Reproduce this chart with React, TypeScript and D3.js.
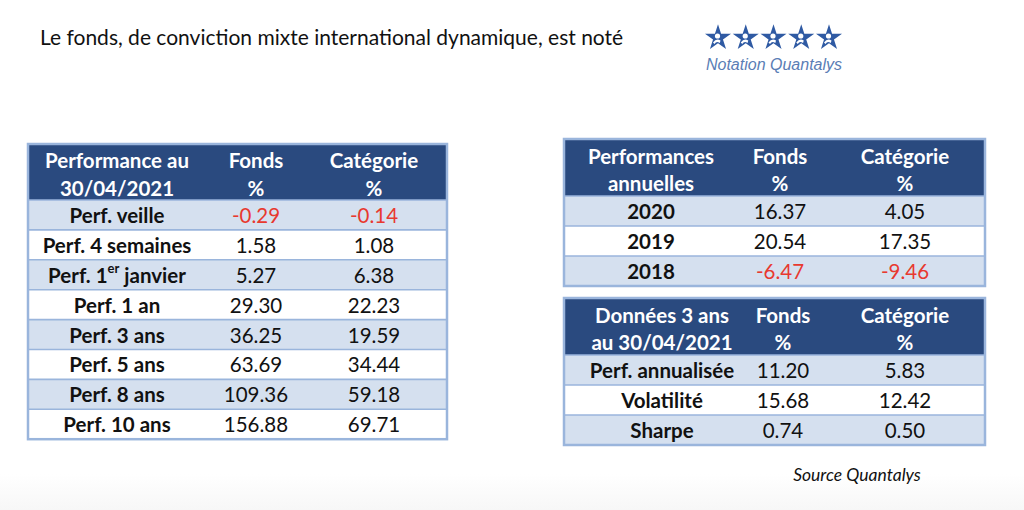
import React from "react";
import * as d3 from "d3";

const titleText = "Le fonds, de conviction mixte international dynamique, est noté";
const ratingLabel = "Notation Quantalys";
const ratingStars = [1, 2, 3, 4, 5];
const sourceText = "Source Quantalys";

const perfHeader = [["Performance au", "30/04/2021"], ["Fonds", "%"], ["Catégorie", "%"]];
const perfLabels = ["Perf. veille", "Perf. 4 semaines", "Perf. 1er janvier", "Perf. 1 an", "Perf. 3 ans", "Perf. 5 ans", "Perf. 8 ans", "Perf. 10 ans"];
const perfFonds = [-0.29, 1.58, 5.27, 29.3, 36.25, 63.69, 109.36, 156.88];
const perfCategorie = [-0.14, 1.08, 6.38, 22.23, 19.59, 34.44, 59.18, 69.71];

const annualHeader = [["Performances", "annuelles"], ["Fonds", "%"], ["Catégorie", "%"]];
const annualLabels = ["2020", "2019", "2018"];
const annualFonds = [16.37, 20.54, -6.47];
const annualCategorie = [4.05, 17.35, -9.46];

const riskHeader = [["Données 3 ans", "au 30/04/2021"], ["Fonds", "%"], ["Catégorie", "%"]];
const riskLabels = ["Perf. annualisée", "Volatilité", "Sharpe"];
const riskFonds = [11.2, 15.68, 0.74];
const riskCategorie = [5.83, 12.42, 0.5];

const FONT = "Lato, 'Open Sans', sans-serif";
const HEADER_BG = "#2a4a7f";
const ROW_ALT = "#d5e0ef";
const LINE = "#9ab5dc";
const NEG = "#e8392f";
const FS = 20.5;
const fmt = d3.formatLocale({ decimal: ".", thousands: ",", grouping: [3], currency: ["", ""], minus: "-" }).format(".2f");

type TableProps = {
  x0: number; x1: number; y0: number; headerH: number; rowH: number;
  cols: number[]; header: string[][]; labels: string[]; a: number[]; b: number[];
};

function Label({ text }: { text: string }) {
  const m = text.match(/^(.*1)(er)( .*)$/);
  if (m) {
    return (
      <>
        <tspan>{m[1]}</tspan>
        <tspan fontSize="13" dy="-7">{m[2]}</tspan>
        <tspan dy="7">{m[3]}</tspan>
      </>
    );
  }
  return <>{text}</>;
}

function Table({ x0, x1, y0, headerH, rowH, cols, header, labels, a, b }: TableProps) {
  const y = d3.scaleBand<string>().domain(labels).range([y0 + headerH, y0 + headerH + rowH * labels.length]);
  const x = d3.scaleOrdinal<number, number>().domain([0, 1, 2]).range(cols.map((c) => x0 + c));
  const y1 = y0 + headerH + rowH * labels.length;
  return (
    <g fontFamily={FONT}>
      <rect x={x0} y={y0} width={x1 - x0} height={headerH} fill={HEADER_BG} />
      {header.map((lines, ci) => (
        <text key={ci} x={x(ci)} textAnchor="middle" fill="#ffffff" fontWeight="bold" fontSize={FS}>
          {lines.map((l, li) => (
            <tspan key={li} x={x(ci)} y={y0 + headerH * (li === 0 ? 0.29 : 0.78)} dominantBaseline="central">{l}</tspan>
          ))}
        </text>
      ))}
      {labels.map((lab, i) => {
        const yy = y(lab)!;
        const cy = yy + y.bandwidth() / 2;
        return (
          <g key={lab}>
            <rect x={x0} y={yy} width={x1 - x0} height={y.bandwidth()} fill={i % 2 === 0 ? ROW_ALT : "#ffffff"} />
            <line x1={x0} x2={x1} y1={yy} y2={yy} stroke={LINE} strokeWidth={1.6} />
            <text x={x(0)} y={cy} textAnchor="middle" dominantBaseline="central" fontWeight="bold" fontSize={FS} fill="#111">
              <Label text={lab} />
            </text>
            <text x={x(1)} y={cy} textAnchor="middle" dominantBaseline="central" fontSize={FS} fill={a[i] < 0 ? NEG : "#111"}>{fmt(a[i])}</text>
            <text x={x(2)} y={cy} textAnchor="middle" dominantBaseline="central" fontSize={FS} fill={b[i] < 0 ? NEG : "#111"}>{fmt(b[i])}</text>
          </g>
        );
      })}
      <rect x={x0} y={y0} width={x1 - x0} height={y1 - y0} fill="none" stroke={LINE} strokeWidth={2.5} />
    </g>
  );
}

function Star({ cx, cy }: { cx: number; cy: number }) {
  const star = d3.symbol(d3.symbolStar, 210)()!;
  return (
    <g transform={`translate(${cx},${cy})`}>
      <path d={star} fill="#2f5aa3" />
      <circle cx={-0.5} cy={-2} r={2.6} fill="#ffffff" />
      <path d="M-5,4.5 Q-1.5,-0.5 2.5,2.5 L1.8,5 Q-1.5,2.5 -3.5,6 Z" fill="#ffffff" />
    </g>
  );
}

export default function App() {
  const starX = d3.scalePoint<number>().domain(ratingStars).range([718, 829]);
  return (
    <svg width={1024} height={510} style={{ position: "absolute", left: 0, top: 0 }}>
      <defs>
        <linearGradient id="bg" x1="0" y1="0" x2="0" y2="1">
          <stop offset="0" stopColor="#ffffff" />
          <stop offset="0.93" stopColor="#ffffff" />
          <stop offset="1" stopColor="#f7f7f7" />
        </linearGradient>
      </defs>
      <rect width={1024} height={510} fill="url(#bg)" />
      <text x={40} y={36} fontFamily={FONT} fontSize="21" fill="#111" dominantBaseline="central">{titleText}</text>
      {ratingStars.map((s) => <Star key={s} cx={starX(s)!} cy={38} />)}
      <text x={774} y={64} textAnchor="middle" fontFamily="'Liberation Sans', Arial, sans-serif" fontStyle="italic" fontSize="16" fill="#5a7db5" dominantBaseline="central">{ratingLabel}</text>
      <Table x0={28} x1={447} y0={144} headerH={56} rowH={29.9} cols={[89, 228, 346]} header={perfHeader} labels={perfLabels} a={perfFonds} b={perfCategorie} />
      <Table x0={564} x1={985} y0={139} headerH={57} rowH={30} cols={[87, 216, 341]} header={annualHeader} labels={annualLabels} a={annualFonds} b={annualCategorie} />
      <Table x0={564} x1={985} y0={298} headerH={57} rowH={30} cols={[98, 219, 341]} header={riskHeader} labels={riskLabels} a={riskFonds} b={riskCategorie} />
      <text x={857} y={474} textAnchor="middle" fontFamily={FONT} fontStyle="italic" fontSize="17.5" fill="#111" dominantBaseline="central">{sourceText}</text>
    </svg>
  );
}
